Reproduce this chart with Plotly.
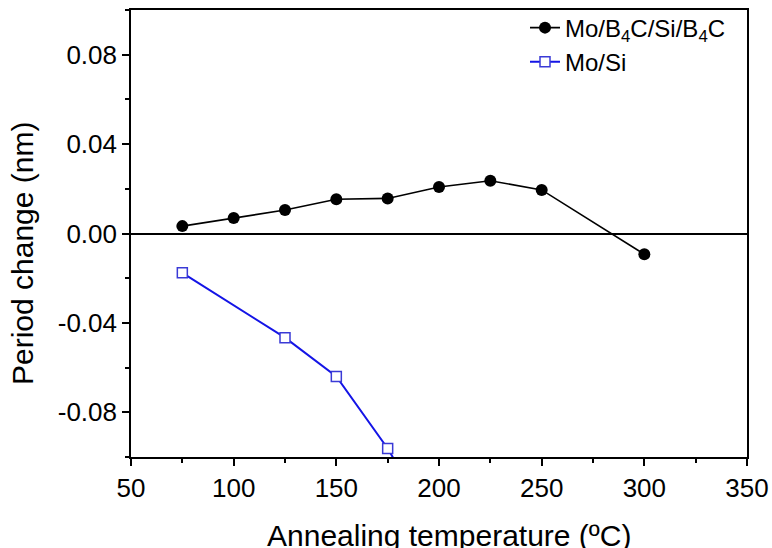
import plotly.graph_objects as go

# Data
temp_b4c = [75, 100, 125, 150, 175, 200, 225, 250, 300]
period_b4c = [0.0033, 0.0069, 0.0105, 0.0153, 0.0157, 0.0208, 0.0236, 0.0195, -0.0093]

temp_mosi = [75, 125, 150, 175, 200]
period_mosi = [-0.0176, -0.0466, -0.0640, -0.0962, -0.135]

x_ticks = [50, 100, 150, 200, 250, 300, 350]
y_ticks = [-0.08, -0.04, 0.0, 0.04, 0.08]
y_tick_text = ["-0.08", "-0.04", "0.00", "0.04", "0.08"]

W, H = 772, 548
ML, MR, MT, MB = 131, 25, 10, 91
PW, PH = W - ML - MR, H - MT - MB

FONT = "Liberation Sans, Arial, sans-serif"

fig = go.Figure()
fig.add_trace(go.Scatter(
    x=temp_b4c, y=period_b4c, mode="lines+markers",
    name="Mo/B<sub>4</sub>C/Si/B<sub>4</sub>C",
    line=dict(color="black", width=1.6),
    marker=dict(symbol="circle", size=12, color="black"),
))
fig.add_trace(go.Scatter(
    x=temp_mosi, y=period_mosi, mode="lines+markers",
    name="Mo/Si",
    line=dict(color="#1414e6", width=2),
    marker=dict(symbol="square", size=10, color="white",
                line=dict(color="#3a3ad6", width=1.5)),
))

fig.update_layout(
    width=W, height=H,
    margin=dict(l=ML, r=MR, t=MT, b=MB, pad=0, autoexpand=False),
    paper_bgcolor="white", plot_bgcolor="white",
    font=dict(family=FONT, color="black", size=26),
    showlegend=True,
    legend=dict(
        x=(731 - ML) / PW, y=1.01, xanchor="right", yanchor="top",
        bgcolor="rgba(0,0,0,0)", borderwidth=0,
        font=dict(family=FONT, size=24, color="black"),
        tracegroupgap=0, itemsizing="trace",
    ),
    xaxis=dict(
        range=[50, 350], tickmode="array", tickvals=x_ticks,
        ticks="outside", ticklen=7, tickwidth=1.5, tickcolor="black",
        minor=dict(dtick=25, tick0=50, ticks="outside", ticklen=4,
                   tickwidth=1.5, tickcolor="black", showgrid=False),
        showline=True, linecolor="black", linewidth=1.6, mirror=True,
        showgrid=False, zeroline=False, automargin=False,
        tickfont=dict(size=26, family=FONT, color="black"),
    ),
    yaxis=dict(
        range=[-0.1, 0.1], tickmode="array", tickvals=y_ticks,
        ticktext=y_tick_text,
        ticks="outside", ticklen=7, tickwidth=1.5, tickcolor="black",
        minor=dict(dtick=0.02, tick0=0, ticks="outside", ticklen=4,
                   tickwidth=1.5, tickcolor="black", showgrid=False),
        showline=True, linecolor="black", linewidth=1.6, mirror=True,
        showgrid=False, zeroline=True, zerolinecolor="black",
        zerolinewidth=1.6, automargin=False,
        tickfont=dict(size=26, family=FONT, color="black"),
    ),
    annotations=[
        dict(text="Annealing temperature (ºC)", xref="paper", yref="paper",
             x=(448.5 - ML) / PW, y=(MT + PH - 535.6) / PH,
             xanchor="center", yanchor="middle", showarrow=False,
             font=dict(family=FONT, size=30, color="black")),
        dict(text="Period change (nm)", xref="paper", yref="paper",
             x=(22.5 - ML) / PW, y=(MT + PH - 253.5) / PH,
             xanchor="center", yanchor="middle", showarrow=False,
             textangle=-90,
             font=dict(family=FONT, size=30, color="black")),
    ],
)

fig.write_html("out.html")
